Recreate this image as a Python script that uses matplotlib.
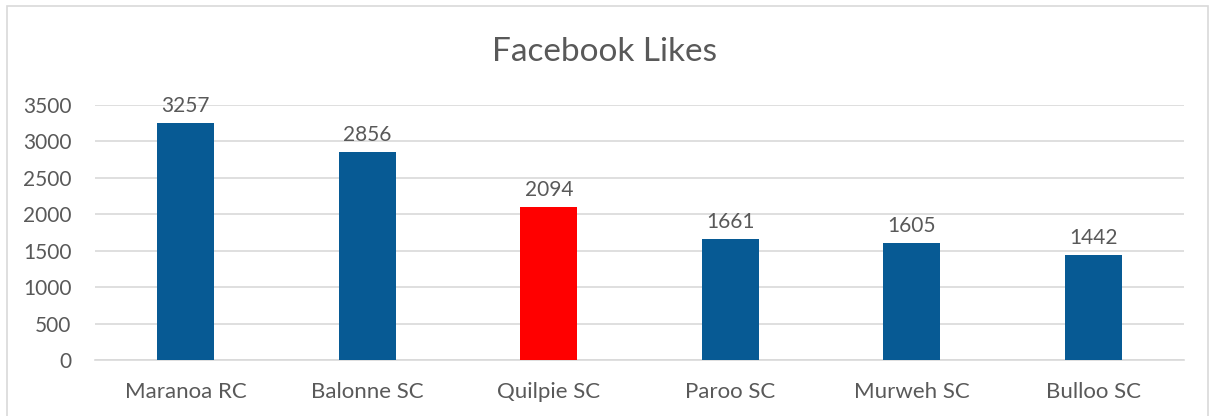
import matplotlib.pyplot as plt
from matplotlib.patches import Rectangle

categories = ["Maranoa RC", "Balonne SC", "Quilpie SC", "Paroo SC", "Murweh SC", "Bulloo SC"]
likes = [3257, 2856, 2094, 1661, 1605, 1442]
colors = ["#075A94", "#075A94", "#FF0000", "#075A94", "#075A94", "#075A94"]

plt.rcParams["font.family"] = ["Lato", "DejaVu Sans"]
text_color = "#595959"
grid_color = "#D9D9D9"

fig = plt.figure(figsize=(12.09, 4.16), dpi=100)
ax = fig.add_axes([95 / 1209, 1 - 360 / 416, (1184 - 95) / 1209, (360 - 105) / 416])

x = range(len(categories))
bars = ax.bar(x, likes, width=0.314, color=colors, zorder=3)

for b, v in zip(bars, likes):
    ax.annotate(str(v), (b.get_x() + b.get_width() / 2, v), xytext=(0, 5),
                textcoords="offset points", ha="center", va="bottom",
                fontsize=15, color=text_color)

ax.set_xlim(-0.5, len(categories) - 0.5)
ax.set_ylim(0, 3500)
ax.set_yticks(range(0, 3501, 500))
ax.set_xticks(list(x))
ax.set_xticklabels(categories)
ax.tick_params(axis="both", length=0, labelcolor=text_color)
ax.tick_params(axis="x", pad=16, labelsize=16)
ax.tick_params(axis="y", pad=17, labelsize=15)
ax.grid(axis="y", color=grid_color, linewidth=1.2, zorder=0)
for s in ["top", "right", "left"]:
    ax.spines[s].set_visible(False)
ax.spines["bottom"].set_color(grid_color)
ax.spines["bottom"].set_linewidth(1.2)

fig.text(0.5, 1 - 52 / 416, "Facebook Likes", ha="center", va="center",
         fontsize=24, color=text_color)

fig.patches.append(Rectangle((7 / 1209, -0.01), 1201 / 1209, 1 - 6 / 416 + 0.01,
                             transform=fig.transFigure, fill=False,
                             edgecolor=grid_color, linewidth=1.2))

fig.savefig("out.png", dpi=100)
